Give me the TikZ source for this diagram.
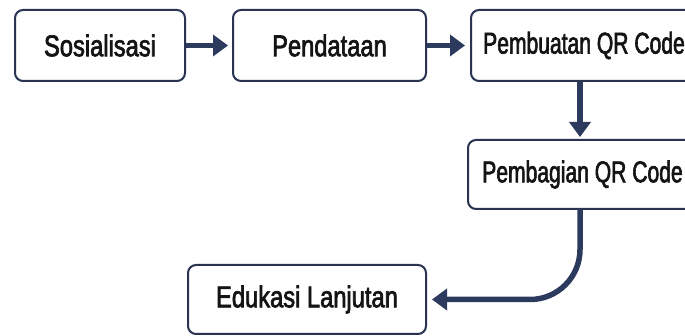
\documentclass[tikz,border=0pt]{standalone}
\usepackage{fontspec}
\setmainfont[FakeStretch=0.79,FakeBold=2.2]{Liberation Sans}
\usetikzlibrary{arrows.meta}
\definecolor{navy}{HTML}{2C3A5E}
\definecolor{boxline}{HTML}{2A3352}
\definecolor{txt}{HTML}{141414}
\begin{document}
\begin{tikzpicture}[x=1pt,y=-1pt,
  box/.style={draw=boxline, line width=2pt, rounded corners=8pt, fill=white, inner sep=0pt,
    font=\fontsize{30}{32}\selectfont, text=txt},
  flow/.style={draw=navy, line width=5.5pt, -{Triangle[width=21pt,length=15pt]}},
]
\useasboundingbox[fill=white] (0,0) rectangle (685,336);
\node[box, minimum width=170pt, minimum height=71pt] (s) at (100,45.5) {Sosialisasi};
\node[box, minimum width=193pt, minimum height=71pt] (p) at (329.5,45.5) {Pendataan};
\node[box, minimum width=226pt, minimum height=71pt] (b) at (584,45.5) {\scalebox{0.89}[1]{Pembuatan QR Code}};
\node[box, minimum width=229pt, minimum height=69pt] (g) at (582.5,174.5) {\scalebox{0.89}[1]{Pembagian QR Code}};
\node[box, minimum width=238pt, minimum height=69pt] (e) at (307,299.5) {Edukasi Lanjutan};
\draw[flow, shorten >=4pt] (s.east) -- (p.west);
\draw[flow, shorten >=5pt] (p.east) -- (b.west);
\draw[flow, shorten >=2pt] ([xshift=-2.5pt]g.north |- b.south) -- ([xshift=-2.5pt]g.north);
\draw[flow, shorten >=5pt, rounded corners=50pt] ([xshift=-2.5pt]g.south) |- (e.east);
\end{tikzpicture}
\end{document}
